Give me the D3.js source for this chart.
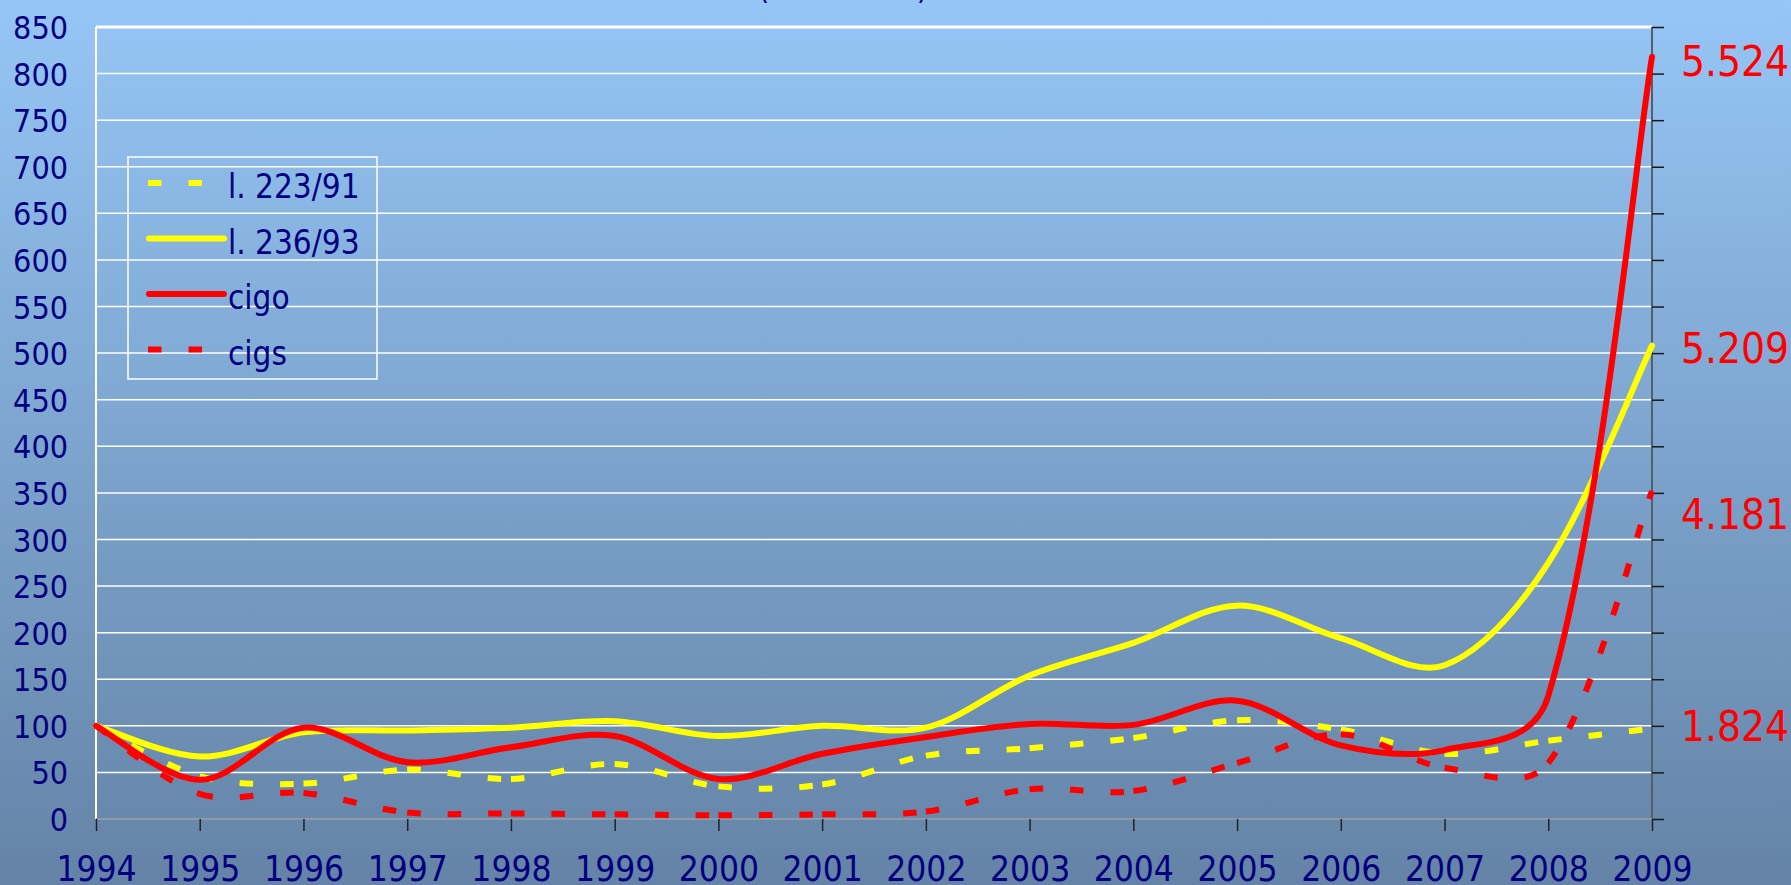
<!DOCTYPE html>
<html>
<head>
<meta charset="utf-8">
<script src="https://cdn.jsdelivr.net/npm/d3@7"></script>
<style>
  html, body { margin: 0; padding: 0; overflow: hidden; }
  svg { display: block; }
  text { font-family: "DejaVu Sans Condensed", "DejaVu Sans", sans-serif; font-stretch: condensed; }
</style>
</head>
<body>
<svg id="chart" width="1791" height="885"></svg>
<script>
// data (index, 1994 = 100)
const years = d3.range(1994, 2010);
const seriesNames = ['l. 223/91', 'l. 236/93', 'cigo', 'cigs'];
const l22391 = [100, 46, 38, 53, 43, 59, 35, 37, 68, 76, 87, 106, 96, 70, 84, 97];
const l23693 = [100, 67, 93, 95, 98, 105, 89, 100, 98, 154, 189, 229, 194, 165, 275, 508];
const cigo   = [100, 42, 98, 61, 77, 89, 43, 70, 88, 102, 101, 127, 79, 74, 132, 818];
const cigs   = [100, 27, 28, 7, 6, 5, 4, 5, 8, 32, 30, 60, 91, 55, 60, 352];
const seriesColors = ['#ffff00', '#ffff00', '#ff0000', '#ff0000'];
const seriesDashed = [true, false, false, true];
// absolute 2009 values written at the right, and where they sit (axis units)
const endLabels = ['1.824', '5.209', '5.524', '4.181'];
const endLabelAt = [100, 506, 814, 327];
const yTicks = d3.range(0, 851, 50);

const W = 1791, H = 885;
const margin = { left: 96, right: 139, top: 27, bottom: 66 };

const svg = d3.select('#chart');

// background gradient
const defs = svg.append('defs');
const grad = defs.append('linearGradient').attr('id', 'bg').attr('x1', 0).attr('y1', 0).attr('x2', 0).attr('y2', 1);
grad.append('stop').attr('offset', '0%').attr('stop-color', '#96c6f6');
grad.append('stop').attr('offset', '100%').attr('stop-color', '#6483a6');
svg.append('rect').attr('width', W).attr('height', H).attr('fill', 'url(#bg)');

const x = d3.scaleLinear().domain([1994, 2009]).range([margin.left, W - margin.right]);
const y = d3.scaleLinear().domain([0, 850]).range([H - margin.bottom, margin.top]);

// title (mostly cut off by the top edge)
svg.append('text')
  .attr('x', 843).attr('y', -1)
  .attr('text-anchor', 'middle')
  .attr('fill', '#000080')
  .attr('font-size', 31)
  .text('(1994=100)');

// gridlines
svg.append('g')
  .selectAll('line')
  .data(yTicks.filter(d => d > 0))
  .join('line')
  .attr('x1', x(1994)).attr('x2', x(2009))
  .attr('y1', d => y(d)).attr('y2', d => y(d))
  .attr('stroke', '#ffffff')
  .attr('stroke-width', d => d === 850 ? 3 : 1.5);

// left axis: labels only + white spine
const yAxis = svg.append('g')
  .attr('transform', `translate(${x(1994)},0)`)
  .call(d3.axisLeft(y).tickValues(yTicks).tickSize(0).tickPadding(28));
yAxis.select('.domain').remove();
yAxis.selectAll('text')
  .attr('fill', '#000080')
  .attr('font-size', 32)
  .attr('dy', '0.36em');
svg.append('line')
  .attr('x1', x(1994)).attr('x2', x(1994))
  .attr('y1', y(850)).attr('y2', y(0))
  .attr('stroke', '#ffffff').attr('stroke-width', 2);

// right axis: ticks only
const yRight = svg.append('g')
  .attr('transform', `translate(${x(2009)},0)`)
  .call(d3.axisRight(y).tickValues(yTicks).tickSize(12).tickFormat(''));
yRight.select('.domain').attr('stroke', '#555f6a').attr('stroke-width', 2).attr('d', `M0,${y(850)}V${y(0)}`);
yRight.selectAll('.tick line').attr('stroke', '#1a1a1a').attr('stroke-width', 1.5);

// bottom axis
const xAxis = svg.append('g')
  .attr('transform', `translate(0,${y(0)})`)
  .call(d3.axisBottom(x).tickValues(years).tickFormat(d3.format('d')).tickSize(12));
xAxis.select('.domain').attr('stroke', '#8e9aa7').attr('stroke-width', 2).attr('d', `M${x(1994)},0H${x(2009)}`);
xAxis.selectAll('.tick line').attr('stroke', '#222').attr('stroke-width', 1.5);
xAxis.selectAll('text')
  .attr('fill', '#000080')
  .attr('font-size', 35)
  .attr('y', 62)
  .attr('dy', 0);

// Excel-style smoothing: Catmull-Rom tangents, arms weighted by the
// lengths of the neighbouring segments (softened by a power)
function excelSmooth(context) {
  let pts;
  function arms(pp, q, pn) {
    const tx = pn[0] - pp[0], ty = pn[1] - pp[1];
    const d1 = Math.pow(Math.hypot(q[0] - pp[0], q[1] - pp[1]), 0.75);
    const d2 = Math.pow(Math.hypot(pn[0] - q[0], pn[1] - q[1]), 0.75);
    if (d1 === 0 || d2 === 0) return { back: [tx / 6, ty / 6], fwd: [tx / 6, ty / 6] };
    const fb = (2 * d1 / (d1 + d2)) / 6, ff = (2 * d2 / (d1 + d2)) / 6;
    return { back: [tx * fb, ty * fb], fwd: [tx * ff, ty * ff] };
  }
  return {
    areaStart() {}, areaEnd() {},
    lineStart() { pts = []; },
    point(px, py) { pts.push([+px, +py]); },
    lineEnd() {
      const n = pts.length;
      if (!n) return;
      context.moveTo(pts[0][0], pts[0][1]);
      if (n === 2) { context.lineTo(pts[1][0], pts[1][1]); return; }
      const a = pts.map((q, i) => arms(pts[Math.max(i - 1, 0)], q, pts[Math.min(i + 1, n - 1)]));
      for (let i = 0; i < n - 1; i++) {
        const p1 = pts[i], p2 = pts[i + 1];
        context.bezierCurveTo(
          p1[0] + a[i].fwd[0], p1[1] + a[i].fwd[1],
          p2[0] - a[i + 1].back[0], p2[1] - a[i + 1].back[1],
          p2[0], p2[1]);
      }
    }
  };
}

const line = d3.line()
  .x((d, i) => x(years[i]))
  .y(d => y(d))
  .curve(excelSmooth);

// dashed lines restart their pattern at every data point
function segments(path) {
  const parts = path.split('C');
  let start = parts[0].slice(1);
  return parts.slice(1).map(p => {
    const seg = `M${start}C${p}`;
    start = p.split(',').slice(-2).join(',');
    return seg;
  });
}

const allSeries = [l22391, l23693, cigo, cigs];
const plot = svg.append('g');
allSeries.forEach((vals, i) => {
  const d = line(vals);
  if (seriesDashed[i]) {
    plot.append('g')
      .selectAll('path')
      .data(segments(d))
      .join('path')
      .attr('d', s => s)
      .attr('fill', 'none')
      .attr('stroke', seriesColors[i])
      .attr('stroke-width', 6)
      .attr('stroke-dasharray', '13.5,27');
  } else {
    plot.append('path')
      .attr('d', d)
      .attr('fill', 'none')
      .attr('stroke', seriesColors[i])
      .attr('stroke-width', 6)
      .attr('stroke-linecap', 'round')
      .attr('stroke-linejoin', 'round');
  }
});

// 2009 absolute values
svg.append('g')
  .selectAll('text')
  .data(endLabels)
  .join('text')
  .attr('x', x(2009) + 29)
  .attr('y', (d, i) => y(endLabelAt[i]))
  .attr('dy', '0.36em')
  .attr('fill', '#ff0000')
  .attr('font-size', 42)
  .text(d => d);

// legend
const legend = svg.append('g').attr('transform', 'translate(128,157)');
legend.append('rect')
  .attr('width', 249).attr('height', 222)
  .attr('fill', 'none')
  .attr('stroke', '#ffffff').attr('stroke-width', 1.5);
const item = legend.selectAll('g.item')
  .data(seriesNames)
  .join('g')
  .attr('class', 'item')
  .attr('transform', (d, i) => `translate(0,${26 + i * 55.5})`);
item.append('line')
  .attr('x1', (d, i) => seriesDashed[i] ? 20 : 21)
  .attr('x2', 96)
  .attr('stroke', (d, i) => seriesColors[i])
  .attr('stroke-width', 6)
  .attr('stroke-linecap', (d, i) => seriesDashed[i] ? 'butt' : 'round')
  .attr('stroke-dasharray', (d, i) => seriesDashed[i] ? '13.5,27' : null);
item.append('text')
  .attr('x', 100)
  .attr('y', 15)
  .attr('fill', '#000080')
  .attr('font-size', 33)
  .text(d => d);
</script>
</body>
</html>
